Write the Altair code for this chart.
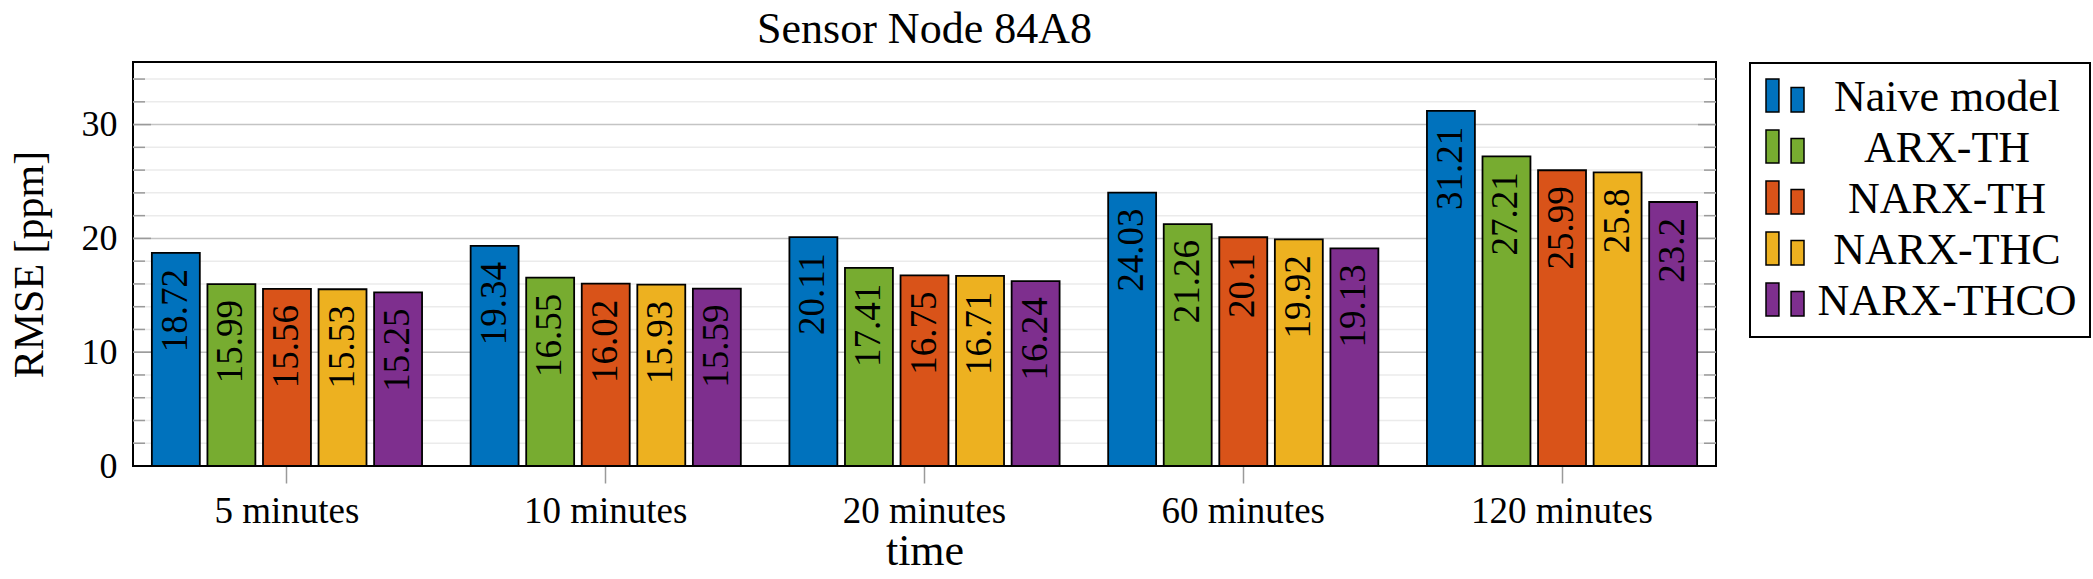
import altair as alt
import pandas as pd

# ---- data ----
categories = ["5 minutes", "10 minutes", "20 minutes", "60 minutes", "120 minutes"]
models = ["Naive model", "ARX-TH", "NARX-TH", "NARX-THC", "NARX-THCO"]
colors = ["#0072BD", "#77AC30", "#D95319", "#EDB120", "#7E2F8E"]

naive = [18.72, 19.34, 20.11, 24.03, 31.21]
arx_th = [15.99, 16.55, 17.41, 21.26, 27.21]
narx_th = [15.56, 16.02, 16.75, 20.1, 25.99]
narx_thc = [15.53, 15.93, 16.71, 19.92, 25.8]
narx_thco = [15.25, 15.59, 16.24, 19.13, 23.2]

major_ticks = [10, 20, 30]
minor_ticks = [2, 4, 6, 8, 12, 14, 16, 18, 22, 24, 26, 28, 32, 34]

series = [naive, arx_th, narx_th, narx_thc, narx_thco]
rows = []
for m, vals in zip(models, series):
    for c, v in zip(categories, vals):
        rows.append({"time": c, "model": m, "value": v, "label": str(v)})
df = pd.DataFrame(rows)

W, H = 1583, 404
FONT = "Liberation Serif"

x_enc = alt.X(
    "time:N",
    sort=categories,
    scale=alt.Scale(paddingInner=0.128, paddingOuter=0.047),
    title="time",
    axis=alt.Axis(
        labelAngle=0,
        labelFontSize=37,
        labelFont=FONT,
        labelBaseline="alphabetic",
        labelPadding=39,
        labelLimit=500,
        tickSize=17,
        tickColor="#9a9a9a",
        tickWidth=1.5,
        domain=False,
        grid=False,
        titleFont=FONT,
        titleFontSize=44,
        titleY=98,
        titleBaseline="alphabetic",
    ),
)
xo_enc = alt.XOffset(
    "model:N", sort=models, scale=alt.Scale(paddingInner=0.137, paddingOuter=0.07)
)
y_enc = alt.Y(
    "value:Q",
    scale=alt.Scale(domain=[0, 35.5], nice=False, zero=True),
    title="RMSE [ppm]",
    axis=alt.Axis(
        values=[0, 10, 20, 30],
        ticks=False,
        tickSize=0,
        domain=False,
        grid=False,
        labelFont=FONT,
        labelFontSize=36,
        labelPadding=16,
        titleFont=FONT,
        titleFontSize=42,
        titleX=-91,
        titleY=H / 2,
        titleAngle=270,
        titleAlign="center",
        titleBaseline="alphabetic",
    ),
)

base = alt.Chart(df)

bars = base.mark_bar(stroke="black", strokeWidth=1.8).encode(
    x=x_enc,
    xOffset=xo_enc,
    y=y_enc,
    color=alt.Color(
        "model:N",
        sort=models,
        scale=alt.Scale(domain=models, range=colors),
        legend=alt.Legend(
            title=None,
            orient="none",
            legendX=1617,
            legendY=1,
            symbolType="M-1,-1L-0.32,-1L-0.32,0.74L-1,0.74Z M0.32,-0.55L1,-0.55L1,0.74L0.32,0.74Z",
            symbolSize=1444,
            symbolStrokeColor="black",
            symbolStrokeWidth=1.5,
            labelFont=FONT,
            labelFontSize=44,
            labelAlign="center",
            labelOffset=140,
            labelLimit=600,
            rowPadding=7,
            padding=13,
            strokeColor="black",
            fillColor="white",
        ),
    ),
)

labels = base.mark_text(
    angle=270, align="right", baseline="middle", dx=-16, fontSize=37, font=FONT, color="black"
).encode(x=x_enc, xOffset=xo_enc, y=y_enc, text="label:N")

major_df = pd.DataFrame({"value": major_ticks})
minor_df = pd.DataFrame({"value": minor_ticks})

grid_minor = alt.Chart(minor_df).mark_rule(color="#ebebeb", strokeWidth=1.5).encode(
    y=y_enc, x=alt.value(0), x2=alt.value(W)
)
grid_major = alt.Chart(major_df).mark_rule(color="#c4c4c4", strokeWidth=1.5).encode(
    y=y_enc, x=alt.value(0), x2=alt.value(W)
)
tick_minor_l = alt.Chart(minor_df).mark_rule(color="#9a9a9a", strokeWidth=1.5).encode(
    y=y_enc, x=alt.value(0), x2=alt.value(12)
)
tick_minor_r = alt.Chart(minor_df).mark_rule(color="#9a9a9a", strokeWidth=1.5).encode(
    y=y_enc, x=alt.value(W - 12), x2=alt.value(W)
)
tick_major_l = alt.Chart(major_df).mark_rule(color="#9a9a9a", strokeWidth=1.5).encode(
    y=y_enc, x=alt.value(0), x2=alt.value(18)
)
tick_major_r = alt.Chart(major_df).mark_rule(color="#9a9a9a", strokeWidth=1.5).encode(
    y=y_enc, x=alt.value(W - 18), x2=alt.value(W)
)

chart = (
    alt.layer(
        grid_minor, grid_major, tick_minor_l, tick_minor_r, tick_major_l, tick_major_r, bars, labels
    )
    .properties(
        width=W,
        height=H,
        title=alt.Title(
            "Sensor Node 84A8",
            fontSize=44,
            font=FONT,
            fontWeight="normal",
            color="black",
            anchor="middle",
            offset=10,
        ),
        autosize=alt.AutoSizeParams(type="none"),
        padding={"left": 133, "top": 62, "right": 377, "bottom": 113},
        background="white",
    )
    .configure_view(stroke="black", strokeWidth=2)
    .configure_axis(labelColor="black", titleColor="black", titleFontWeight="normal")
    .configure_legend(labelColor="black", strokeWidth=2, cornerRadius=0)
)

chart.save("out.html", embed_options={"renderer": "svg", "actions": False})
